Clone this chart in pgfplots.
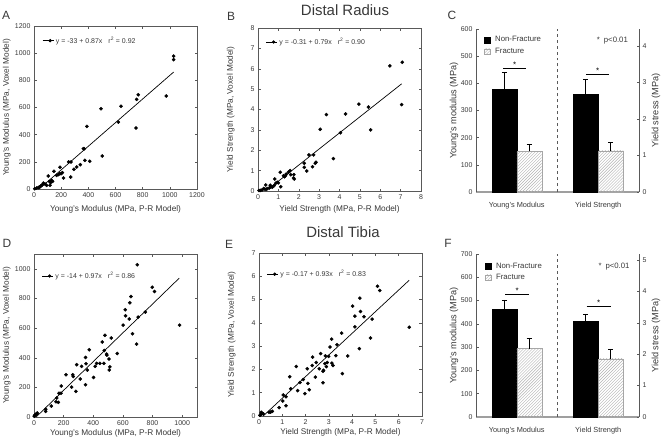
\documentclass[border=0pt]{standalone}
\usepackage{fontspec}
\setmainfont{Liberation Sans}
\usepackage{pgfplots}
\pgfplotsset{compat=1.18}
\usetikzlibrary{patterns}
\definecolor{txt}{gray}{0.22}
\definecolor{axc}{gray}{0.35}

\pgfplotsset{
  base/.style={
    scale only axis, width=163bp, height=163bp,
    /pgf/number format/assume math mode=true,
    /pgf/number format/1000 sep={},
    tick label style={font=\fontsize{7}{8}\selectfont, text=txt},
    axis line style={axc, line width=0.5pt},
    tick style={axc, line width=0.45pt},
    major tick length=2.5bp,
    clip=false,
  },
  scat/.style={base,
    label style={font=\fontsize{8.3}{9}\selectfont, text=txt},
    ylabel style={at={(axis description cs:-0.168,0.5)}, anchor=center},
    legend cell align=left,
    legend style={draw=none, fill=none, font=\fontsize{7}{8}\selectfont, text=txt, inner sep=0pt},
  },
  pts/.style={only marks, mark=*, mark size=1.6bp, black, forget plot},
  fit/.style={black, line width=0.7pt, no marks,
     legend image code/.code={\draw[black, line width=0.6pt] (0bp,0bp) -- (11bp,0bp); \fill[black] (7.5bp,0bp) circle (1.3bp);}},
  barL/.style={base, xmin=0, xmax=4, ymin=0,
     axis y line=left, axis x line=bottom,
     axis line style={-, axc, line width=0.5pt},
     x axis line style={-, gray!75, line width=1.3pt},
     tick align=inside,
     xtick={1,3}, xticklabels={Young's Modulus, Yield Strength},
     x tick style={draw=none},
     xticklabel style={font=\fontsize{7.4}{8}\selectfont, text=txt}, xticklabel shift=7bp,
     label style={font=\fontsize{9.2}{10}\selectfont, text=txt},
     ylabel style={at={(axis description cs:-0.135,0.5)}, anchor=center},
     legend cell align=left,
     legend style={draw=none, fill=none, font=\fontsize{7.8}{9}\selectfont, text=txt, inner sep=0pt, row sep=0.8bp},
  },
  barR/.style={base, xmin=0, xmax=4, ymin=0,
     axis y line=right, axis x line=none, xtick=\empty,
     axis line style={-, axc, line width=0.5pt},
     tick align=inside,
  },
  nfbar/.style={ybar, bar width=0.613, bar shift=0pt, fill=black, draw=black,
     legend image code/.code={\draw[black, fill=black] (0bp,-2.8bp) rectangle (5.6bp,2.8bp); \path (8.5bp,0bp);}},
  frbar/.style={ybar, bar width=0.613, bar shift=0pt, pattern=north east lines, pattern color=gray!60, draw=gray!70,
     legend image code/.code={\draw[gray!70, pattern=north east lines, pattern color=gray!60] (0bp,-2.8bp) rectangle (5.6bp,2.8bp); \path (8.5bp,0bp);}},
  eb/.style={error bars/.cd, y dir=plus, y explicit, error bar style={black, line width=0.6pt},
     error mark options={rotate=90, black, mark size=2.5bp, line width=0.6pt}},
}

\begin{document}
\begin{tikzpicture}
\path[use as bounding box] (0,0) rectangle (663bp,-442bp);

% panel letters and titles
\node[font=\fontsize{12}{14}\selectfont, text=txt] at (6bp,-15bp) {A};
\node[font=\fontsize{12}{14}\selectfont, text=txt] at (231bp,-16bp) {B};
\node[font=\fontsize{12}{14}\selectfont, text=txt] at (452bp,-15bp) {C};
\node[font=\fontsize{12}{14}\selectfont, text=txt] at (7bp,-243bp) {D};
\node[font=\fontsize{12}{14}\selectfont, text=txt] at (229bp,-244bp) {E};
\node[font=\fontsize{12}{14}\selectfont, text=txt] at (448bp,-243bp) {F};
\node[font=\fontsize{15}{18}\selectfont, text=txt] at (345bp,-10bp) {Distal Radius};
\node[font=\fontsize{15}{18}\selectfont, text=txt] at (343bp,-232bp) {Distal Tibia};

% ---------------- A ----------------
\begin{axis}[scat, at={(34bp,-189bp)}, xmin=0,xmax=1200,ymin=0,ymax=1200,
  xtick={0,200,...,1200}, ytick={0,200,...,1200},
  xlabel={Young's Modulus (MPa, P-R Model)}, ylabel={Young's Modulus (MPa, Voxel Model)},
  xlabel style={at={(axis description cs:0.5,-0.123)}, anchor=center},
  legend style={at={(axis description cs:0.05,0.91)}, anchor=west}]
\addplot[pts] table {
x y
1028 979
1028 952
974 685
768 694
756 660
751 449
640 609
621 493
493 591
390 461
503 243
375 211
410 204
363 297
370 297
255 199
272 199
341 179
314 162
294 145
270 88
218 81
191 160
147 130
209 120
199 113
179 106
167 100
189 113
105 96
113 56
123 47
118 27
130 64
137 56
93 27
61 32
69 44
49 22
39 15
20 7
5 2
81 37
32 10
};
\addplot[fit] coordinates {(38,0) (1028,861)};
\addlegendentry{y = -33 + 0.87x\hspace{6bp}r\textsuperscript{2} = 0.92}
\end{axis}

% ---------------- B ----------------
\begin{axis}[scat, at={(258bp,-191bp)}, xmin=0,xmax=8,ymin=0,ymax=8,
  xtick={0,...,8}, ytick={0,...,8},
  xlabel={Yield Strength (MPa, P-R Model)}, ylabel={Yield Strength (MPa, Voxel Model)},
  xlabel style={at={(axis description cs:0.5,-0.115)}, anchor=center},
  legend style={at={(axis description cs:0.047,0.914)}, anchor=west}]
\addplot[pts] table {
x y
7.08 6.32
6.47 6.14
7.05 4.24
4.95 4.26
5.42 4.12
5.53 3.00
4.30 3.78
3.36 3.75
4.05 2.86
3.05 3.03
3.70 1.59
2.50 1.77
2.73 1.77
2.27 1.36
2.27 1.16
2.39 0.98
2.68 1.19
2.85 1.41
2.81 1.36
1.58 1.00
1.50 0.93
1.38 0.83
1.35 0.75
1.61 0.80
1.76 0.80
1.74 0.64
1.78 0.59
1.09 0.92
1.25 0.75
1.30 0.70
0.82 0.59
0.95 0.43
0.87 0.38
0.79 0.26
1.12 0.21
1.00 0.40
0.60 0.28
0.55 0.15
0.45 0.12
0.38 0.30
0.35 0.08
0.28 0.12
0.20 0.05
0.12 0.03
0.05 0.02
0.62 0.20
0.70 0.18
};
\addplot[fit] coordinates {(0.39,0) (7.05,5.26)};
\addlegendentry{y = -0.31 + 0.79x\hspace{6bp}r\textsuperscript{2} = 0.90}
\end{axis}

% ---------------- C ----------------
\begin{axis}[barL, at={(476bp,-192bp)}, ymax=600, ytick={0,100,...,600},
  ylabel={Young's modulus (MPa)},
  legend style={at={(axis description cs:0.05,0.967)}, anchor=north west}]
\addplot[nfbar, eb] coordinates {(0.6935,378) +- (0,62)};
\addlegendentry{Non-Fracture}
\addplot[frbar, eb] coordinates {(1.3065,150) +- (0,26)};
\addlegendentry{Fracture}
\draw[dashed, axc, line width=0.6pt] (axis cs:2,0) -- (axis cs:2,600);
\draw[black, line width=0.6pt] (axis cs:0.671,456) -- (axis cs:1.227,456);
\node[font=\fontsize{8}{9}\selectfont] at ([yshift=3.5bp]axis cs:0.95,456) {*};
\draw[black, line width=0.6pt] (axis cs:2.70,435) -- (axis cs:3.27,435);
\node[font=\fontsize{8}{9}\selectfont] at ([yshift=3.5bp]axis cs:2.985,435) {*};
\node[anchor=west, font=\fontsize{7.8}{9}\selectfont, text=txt] at (axis description cs:0.72,0.93) {*\hspace{4bp}p<0.01};
\end{axis}
\begin{axis}[barR, at={(476bp,-192bp)}, ymax=4.46, ytick={0,1,2,3,4}]
\addplot[nfbar, eb] coordinates {(2.6935,2.67) +- (0,0.42)};
\addplot[frbar, eb] coordinates {(3.3065,1.13) +- (0,0.22)};
\node[rotate=90, font=\fontsize{9.2}{10}\selectfont, text=txt] at (axis description cs:1.104,0.5) {Yield stress (MPa)};
\end{axis}

% ---------------- D ----------------
\begin{axis}[scat, at={(34bp,-417bp)}, xmin=0,xmax=1100,ymin=0,ymax=1100,
  xtick={0,200,...,1000}, ytick={0,200,...,1000},
  xlabel={Young's Modulus (MPa, P-R Model)}, ylabel={Young's Modulus (MPa, Voxel Model)},
  xlabel style={at={(axis description cs:0.5,-0.098)}, anchor=center},
  legend style={at={(axis description cs:0.047,0.865)}, anchor=west}]
\addplot[pts] table {
x y
697 1027
798 876
813 847
654 813
647 771
616 724
618 683
643 661
703 674
751 708
602 620
665 562
692 492
982 620
521 533
479 551
461 506
562 429
373 454
348 402
490 425
492 418
506 391
474 449
288 353
321 342
351 360
422 362
445 362
472 362
413 342
512 339
508 317
402 267
360 317
261 285
265 274
216 285
312 256
283 173
348 218
254 202
184 209
169 160
182 160
164 99
117 74
153 128
148 103
79 52
79 38
22 27
18 22
13 18
9 16
4 11
2 5
};
\addplot[fit] coordinates {(14.4,0) (980,937)};
\addlegendentry{y = -14 + 0.97x\hspace{6bp}r\textsuperscript{2} = 0.86}
\end{axis}

% ---------------- E ----------------
\begin{axis}[scat, at={(259bp,-416bp)}, xmin=0,xmax=7,ymin=0,ymax=7,
  xtick={0,...,7}, ytick={0,...,7},
  xlabel={Yield Strength (MPa, P-R Model)}, ylabel={Yield Strength (MPa, Voxel Model)},
  xlabel style={at={(axis description cs:0.5,-0.098)}, anchor=center},
  legend style={at={(axis description cs:0.047,0.87)}, anchor=west}]
\addplot[pts] table {
x y
5.09 5.57
5.19 5.39
4.33 5.06
4.02 4.72
4.12 4.29
4.36 4.49
4.51 4.26
4.86 4.16
4.12 3.83
6.45 3.81
3.55 3.56
4.79 3.35
4.31 2.89
3.12 3.30
3.35 3.06
3.05 2.96
3.81 2.58
3.58 1.82
3.30 2.59
2.99 2.56
2.65 2.68
2.85 2.58
2.93 2.30
3.13 2.27
3.18 2.17
2.77 1.96
2.75 1.92
2.89 2.12
2.83 2.25
2.59 2.03
2.75 1.43
2.30 2.53
2.46 2.30
2.29 2.17
2.42 1.67
2.07 2.03
2.10 1.40
2.16 1.13
1.97 0.96
1.60 2.13
1.32 1.69
1.90 1.57
1.76 1.44
1.66 1.09
1.36 1.17
1.04 0.90
1.16 0.83
1.02 0.64
1.16 0.44
0.86 0.36
0.57 0.20
0.50 0.17
0.43 0.16
0.14 0.11
0.07 0.06
0.04 0.03
0.19 0.09
0.10 0.16
};
\addplot[fit] coordinates {(0.18,0) (6.45,5.83)};
\addlegendentry{y = -0.17 + 0.93x\hspace{6bp}r\textsuperscript{2} = 0.83}
\end{axis}

% ---------------- F ----------------
\begin{axis}[barL, at={(476bp,-417bp)}, ymax=700, ytick={0,100,...,700},
  ylabel={Young's modulus (MPa)},
  legend style={at={(axis description cs:0.055,0.96)}, anchor=north west}]
\addplot[nfbar, eb] coordinates {(0.6935,464) +- (0,39)};
\addlegendentry{Non-Fracture}
\addplot[frbar, eb] coordinates {(1.3065,294) +- (0,46)};
\addlegendentry{Fracture}
\draw[dashed, axc, line width=0.6pt] (axis cs:2,0) -- (axis cs:2,700);
\draw[black, line width=0.6pt] (axis cs:0.712,526) -- (axis cs:1.309,526);
\node[font=\fontsize{8}{9}\selectfont] at ([yshift=3.5bp]axis cs:1.01,526) {*};
\draw[black, line width=0.6pt] (axis cs:2.716,474) -- (axis cs:3.305,474);
\node[font=\fontsize{8}{9}\selectfont] at ([yshift=3.5bp]axis cs:3.01,474) {*};
\node[anchor=west, font=\fontsize{7.8}{9}\selectfont, text=txt] at (axis description cs:0.73,0.925) {*\hspace{4bp}p<0.01};
\end{axis}
\begin{axis}[barR, at={(476bp,-417bp)}, ymax=5.19, ytick={0,1,2,3,4,5}]
\addplot[nfbar, eb] coordinates {(2.6935,3.04) +- (0,0.24)};
\addplot[frbar, eb] coordinates {(3.3065,1.85) +- (0,0.32)};
\node[rotate=90, font=\fontsize{9.2}{10}\selectfont, text=txt] at (axis description cs:1.104,0.5) {Yield stress (MPa)};
\end{axis}

\end{tikzpicture}
\end{document}
